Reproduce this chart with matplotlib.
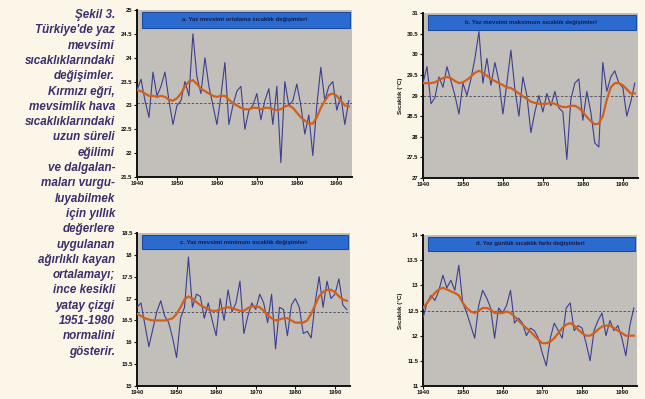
import matplotlib
matplotlib.use("Agg")
import matplotlib.pyplot as plt
from matplotlib.patches import Rectangle

years = list(range(1940, 1994))

# a. yaz ortalama
mean_vals = [23.32, 23.55, 23.1, 22.75, 23.7, 23.2, 23.4, 23.7, 23.1, 22.6,
             23.0, 23.1, 23.5, 23.2, 24.5, 23.6, 23.25, 24.0, 23.4, 23.0,
             22.6, 23.2, 23.9, 22.6, 23.0, 23.3, 23.4, 22.5, 22.9, 23.0,
             23.25, 22.7, 23.1, 23.35, 22.6, 23.4, 21.8, 23.5, 23.0, 23.1,
             23.45, 23.0, 22.4, 22.8, 21.95, 23.0, 23.8, 23.1, 23.4, 23.5,
             22.9, 23.2, 22.6, 23.1]
mean_smooth = [23.32, 23.3, 23.25, 23.2, 23.2, 23.18, 23.2, 23.18, 23.12, 23.1,
               23.15, 23.25, 23.4, 23.5, 23.53, 23.45, 23.35, 23.3, 23.25, 23.2,
               23.18, 23.2, 23.2, 23.12, 23.05, 23.0, 22.95, 22.92, 22.92, 22.95,
               22.95, 22.92, 22.95, 22.95, 22.92, 22.9, 22.92, 22.98, 23.0, 22.95,
               22.85, 22.75, 22.68, 22.62, 22.62, 22.75, 22.95, 23.1, 23.22, 23.25,
               23.2, 23.1, 23.0, 22.98]

# b. yaz maksimum
max_vals = [29.3, 29.7, 28.8, 28.95, 29.45, 29.2, 29.7, 29.35, 29.0, 28.55,
            29.3, 29.0, 29.4, 29.9, 30.55, 29.3, 29.9, 29.25, 29.8, 29.35,
            28.55, 29.3, 30.1, 29.15, 28.5, 29.45, 29.0, 28.1, 28.6, 29.0,
            28.6, 29.05, 28.75, 29.1, 28.7, 28.6, 27.45, 28.9, 29.3, 29.4,
            28.4, 29.1, 28.6, 27.85, 27.75, 29.8, 29.1, 29.45, 29.6, 29.3,
            29.2, 28.5, 28.85, 29.3]
max_smooth = [29.3, 29.3, 29.3, 29.32, 29.38, 29.42, 29.45, 29.42, 29.35, 29.3,
              29.32, 29.38, 29.46, 29.55, 29.6, 29.55, 29.48, 29.4, 29.35, 29.3,
              29.25, 29.2, 29.18, 29.12, 29.05, 28.98, 28.92, 28.85, 28.82, 28.8,
              28.8, 28.8, 28.82, 28.8, 28.75, 28.72, 28.72, 28.75, 28.75, 28.7,
              28.6, 28.48, 28.38, 28.3, 28.32, 28.5, 28.9, 29.2, 29.3, 29.3,
              29.25, 29.15, 29.05, 29.05]

# c. yaz minimum
min_vals = [16.8, 16.9, 16.4, 15.9, 16.3, 16.7, 16.95, 16.6, 16.45, 16.1,
            15.65, 16.55, 16.8, 17.95, 16.8, 17.1, 17.05, 16.55, 16.9, 16.5,
            16.15, 17.0, 16.5, 17.2, 16.7, 16.9, 17.4, 16.2, 16.6, 16.9,
            16.75, 17.1, 16.9, 16.45, 17.1, 15.85, 16.8, 16.75, 16.15, 16.85,
            17.0, 16.8, 16.2, 16.25, 16.1, 16.9, 17.5, 16.8, 17.4, 17.0,
            17.1, 17.45, 16.85, 16.75]
min_smooth = [16.65, 16.6, 16.55, 16.52, 16.5, 16.5, 16.5, 16.5, 16.52, 16.55,
              16.65, 16.8, 16.98, 17.05, 17.0, 16.92, 16.85, 16.8, 16.75, 16.72,
              16.72, 16.75, 16.78, 16.8, 16.78, 16.75, 16.72, 16.72, 16.78, 16.82,
              16.82, 16.8, 16.72, 16.62, 16.55, 16.5, 16.52, 16.55, 16.55, 16.5,
              16.45, 16.45, 16.45, 16.5, 16.65, 16.85, 17.05, 17.15, 17.2, 17.2,
              17.15, 17.05, 16.98, 16.95]

# d. gunluk sicaklik farki
dtr_vals = [12.35, 12.65, 12.8, 12.7, 12.9, 13.2, 12.95, 13.1, 12.9, 13.4,
            12.65, 12.45, 12.2, 11.95, 12.6, 12.9, 12.75, 12.55, 11.95, 12.55,
            12.45, 12.6, 12.9, 12.25, 12.35, 12.25, 12.0, 12.15, 12.1, 11.95,
            11.65, 11.4, 11.95, 12.25, 12.1, 11.95, 12.55, 12.65, 12.1, 12.2,
            12.15, 11.85, 11.5, 12.1, 12.3, 12.45, 12.0, 12.3, 12.1, 12.2,
            11.95, 11.6, 12.2, 12.55]
dtr_smooth = [12.55, 12.65, 12.75, 12.85, 12.92, 12.95, 12.92, 12.88, 12.85, 12.8,
              12.65, 12.55, 12.48, 12.45, 12.5, 12.55, 12.55, 12.52, 12.45, 12.45,
              12.45, 12.48, 12.45, 12.38, 12.3, 12.22, 12.15, 12.08, 12.0, 11.92,
              11.85, 11.85, 11.88, 11.95, 12.05, 12.15, 12.22, 12.25, 12.2, 12.12,
              12.05, 12.0, 12.0, 12.05, 12.12, 12.18, 12.2, 12.2, 12.15, 12.1,
              12.05, 12.0, 12.0, 12.0]

normals = [23.05, 29.0, 16.7, 12.5]

titles = ["a. Yaz mevsimi ortalama sıcaklık değişimleri",
          "b. Yaz mevsimi maksimum sıcaklık değişimleri",
          "c. Yaz mevsimi minimum sıcaklık değişimleri",
          "d. Yaz günlük sıcaklık farkı değişimleri"]
ylims = [(21.5, 25), (27, 31), (15, 18.5), (11, 14)]
xticks = [1940, 1950, 1960, 1970, 1980, 1990]

caption = ["Şekil 3.", "Türkiye'de yaz", "mevsimi", "sıcaklıklarındaki",
           "değişimler.", "Kırmızı eğri,", "mevsimlik hava", "sıcaklıklarındaki",
           "uzun süreli", "eğilimi", "ve dalgalan-", "maları vurgu-",
           "luyabilmek", "için yıllık", "değerlere", "uygulanan",
           "ağırlıklı kayan", "ortalamayı;", "ince kesikli", "yatay çizgi",
           "1951-1980", "normalini", "gösterir."]

page_bg = "#fbf6e7"
panel_bg = "#c2beba"
blue_line = "#3c3f8e"
red_line = "#d0601c"
bar_blue = "#2b6bd0"
caption_col = "#3b2f6c"

plt.rcParams['font.family'] = ['Liberation Sans', 'DejaVu Sans']

fig = plt.figure(figsize=(6.45, 3.99), dpi=100, facecolor=page_bg)

# [left, bottom, width, height] in figure fractions
boxes = [[0.2124, 0.5564, 0.3333, 0.4185],
         [0.6558, 0.5539, 0.3333, 0.4135],
         [0.2124, 0.0326, 0.3302, 0.3834],
         [0.6558, 0.0326, 0.3318, 0.3784]]
series = [(mean_vals, mean_smooth), (max_vals, max_smooth),
          (min_vals, min_smooth), (dtr_vals, dtr_smooth)]

for i, box in enumerate(boxes):
    ax = fig.add_axes(box)
    ax.set_facecolor(panel_bg)
    vals, smooth = series[i]
    ax.axhline(normals[i], color="#4a4a5a", lw=0.6, ls=(0, (3, 2)), zorder=2)
    ax.plot(years, vals, color=blue_line, lw=0.8, zorder=3)
    ax.plot(years, smooth, color=red_line, lw=1.6, zorder=4)
    ax.set_xlim(1940, 1993.8)
    ax.set_ylim(*ylims[i])
    ax.set_xticks(xticks)
    lo, hi = ylims[i]
    yt = [lo + 0.5 * k for k in range(int(round((hi - lo) / 0.5)) + 1)]
    ax.set_yticks(yt)
    ax.set_yticklabels([f"{v:g}" for v in yt])
    for s in ["top", "right"]:
        ax.spines[s].set_visible(False)
    for s in ["left", "bottom"]:
        ax.spines[s].set_linewidth(1.4)
        ax.spines[s].set_color("#111111")
    ax.tick_params(axis="both", labelsize=4.2, length=2, width=0.8, pad=1.2,
                   colors="#111111")
    for lab in ax.get_xticklabels() + ax.get_yticklabels():
        lab.set_fontweight("bold")

    # blue title bar
    ax.add_patch(Rectangle((0.022, 0.895), 0.968, 0.092, transform=ax.transAxes,
                           facecolor=bar_blue, edgecolor="#1d4a9a", lw=0.8,
                           zorder=5, clip_on=False))
    ax.text(0.5, 0.941, titles[i], transform=ax.transAxes, ha="center",
            va="center", fontsize=4.3, fontweight="bold", color="#141a4a",
            zorder=6)
    if i in (1, 3):
        ax.set_ylabel("Sıcaklık (°C)", fontsize=4.5, fontweight="bold",
                      labelpad=3, color="#111111")

# caption on the left
for k, line in enumerate(caption):
    y = 1 - (15 + k * 15.3) / 399
    fig.text(115 / 645, y, line, ha="right", va="center", fontsize=8.4,
             fontstyle="italic", fontweight="bold", color=caption_col)

fig.savefig("out.png", dpi=100, facecolor=page_bg)
